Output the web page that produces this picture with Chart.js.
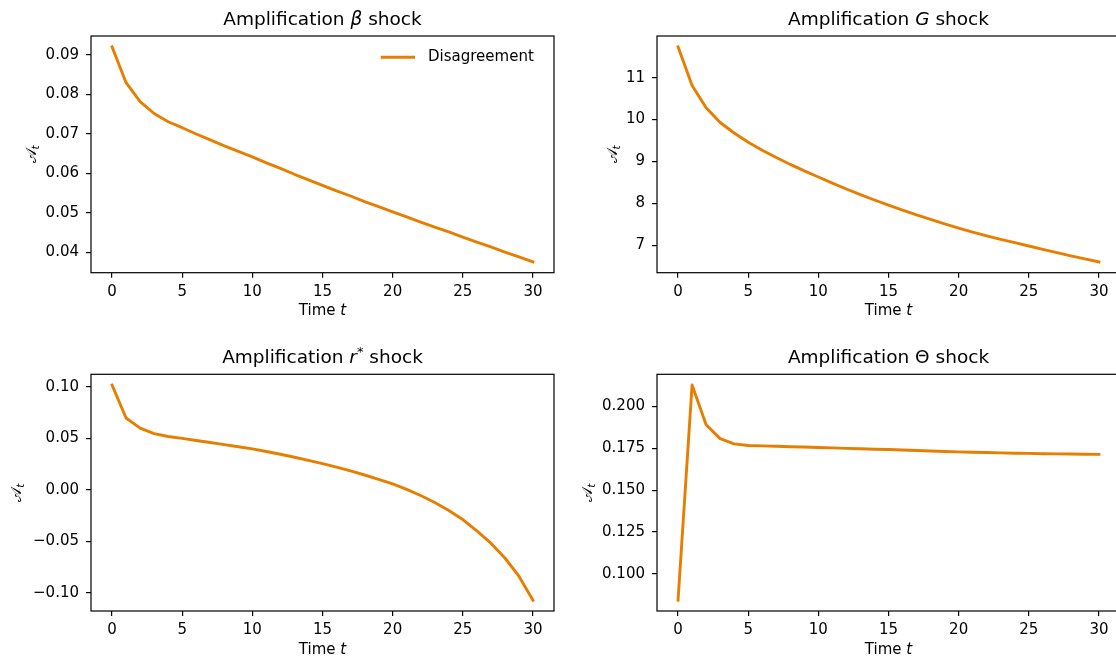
<!DOCTYPE html>
<html>
<head>
<meta charset="utf-8">
<script src="https://cdn.jsdelivr.net/npm/chart.js@4.4.1/dist/chart.umd.min.js"></script>
<style>
  html, body { margin: 0; padding: 0; background: #fff; }
  #wrap { position: relative; width: 1116px; height: 663px; overflow: hidden; }
  canvas { position: absolute; }
</style>
</head>
<body>
<div id="wrap">
  <canvas id="c0"></canvas>
  <canvas id="c1"></canvas>
  <canvas id="c2"></canvas>
  <canvas id="c3"></canvas>
</div>
<script>
// values
const time = [0,1,2,3,4,5,6,7,8,9,10,11,12,13,14,15,16,17,18,19,20,21,22,23,24,25,26,27,28,29,30];
const ampBeta = [0.0921,0.0830,0.0782,0.0752,0.0731,0.0716,0.0700,0.0685,0.0670,0.0656,0.0642,0.0627,0.0613,0.0598,0.0584,0.0570,0.0556,0.0543,0.0529,0.0516,0.0503,0.0490,0.0477,0.0464,0.0452,0.0439,0.0426,0.0414,0.0401,0.0389,0.0376];
const ampG = [11.736,10.81,10.28,9.93,9.68,9.46,9.27,9.095,8.93,8.775,8.63,8.485,8.345,8.212,8.082,7.96,7.842,7.729,7.619,7.512,7.41,7.315,7.227,7.144,7.064,6.985,6.905,6.827,6.751,6.677,6.605];
const ampRstar = [0.1019,0.0699,0.0601,0.0548,0.0520,0.0501,0.0481,0.0461,0.0441,0.0420,0.0399,0.0374,0.0347,0.0318,0.0288,0.0257,0.0223,0.0186,0.0146,0.0104,0.0059,0.0007,-0.0053,-0.0121,-0.0198,-0.0287,-0.0397,-0.0516,-0.0660,-0.0837,-0.1070];
const ampTheta = [0.0843,0.2128,0.1891,0.1808,0.1777,0.1767,0.1765,0.1763,0.1760,0.1758,0.1755,0.1753,0.1750,0.1748,0.1745,0.1743,0.1740,0.1737,0.1734,0.1731,0.1729,0.1727,0.1725,0.1723,0.1721,0.1720,0.1718,0.1717,0.1716,0.1715,0.1714];

const xTicks = [0,5,10,15,20,25,30];
const betaTicks = [0.04,0.05,0.06,0.07,0.08,0.09];
const gTicks = [7,8,9,10,11];
const rstarTicks = [-0.10,-0.05,0.00,0.05,0.10];
const thetaTicks = [0.100,0.125,0.150,0.175,0.200];

const seriesName = 'Disagreement';
const lineColor = '#e67e00';
const FONT = '"DejaVu Sans", sans-serif';

// text pieces: [text, style]  style: '' | 'i' | 'sup' | 'sub'
const xLabel = [['Time '], ['t', 'i']];
const yLabel = [['\u{1D49C}'], ['t', 'sub']];

function fontFor(style, size) {
  const small = style === 'sup' || style === 'sub';
  const s = small ? size * 0.7 : size;
  const it = (style === 'i' || style === 'sub') ? 'italic ' : '';
  const dy = style === 'sup' ? -size * 0.42 : style === 'sub' ? size * 0.22 : 0;
  return { font: it + s + 'px ' + FONT, dy };
}

function drawRich(ctx, parts, cx, y, size) {
  ctx.save();
  ctx.textBaseline = 'alphabetic';
  ctx.textAlign = 'left';
  ctx.fillStyle = '#000';
  let total = 0;
  const m = parts.map(([t, st]) => {
    const f = fontFor(st || '', size);
    ctx.font = f.font;
    const w = ctx.measureText(t).width;
    total += w;
    return { t, f, w };
  });
  let x = cx - total / 2;
  m.forEach(p => { ctx.font = p.f.font; ctx.fillText(p.t, x, y + p.f.dy); x += p.w; });
  ctx.restore();
}

function decor(p) {
  return {
    id: 'decor',
    afterDraw(chart) {
      const { ctx, chartArea: a } = chart;
      ctx.save();
      ctx.strokeStyle = '#000';
      ctx.lineWidth = 1.2;
      ctx.strokeRect(a.left, a.top, a.right - a.left, a.bottom - a.top);
      const mid = (a.left + a.right) / 2;
      drawRich(ctx, p.title, mid, a.top - 11, 18.5);
      drawRich(ctx, xLabel, mid, a.bottom + 42.5, 15);
      ctx.save();
      ctx.translate(a.left - p.ylabelGap + 5, (a.top + a.bottom) / 2);
      ctx.rotate(-Math.PI / 2);
      drawRich(ctx, yLabel, 0, 0, 15);
      ctx.restore();
      if (p.legend) {
        const ds = chart.data.datasets[0];
        const ly = a.top + 21.3;
        ctx.strokeStyle = ds.borderColor;
        ctx.lineWidth = ds.borderWidth;
        ctx.beginPath();
        ctx.moveTo(a.right - 173.3, ly);
        ctx.lineTo(a.right - 139, ly);
        ctx.stroke();
        ctx.fillStyle = '#000';
        ctx.font = '15px ' + FONT;
        ctx.textBaseline = 'alphabetic';
        ctx.fillText(ds.label, a.right - 126, ly + 4);
      }
      ctx.restore();
    }
  };
}

const panels = [
  { id: 'c0', x: 0,   y: 0,   w: 560, h: 330, area: [91, 36, 554, 272.7],  data: ampBeta,  ticks: betaTicks,  dec: 2,
    title: [['Amplification '], ['\u03B2', 'i'], [' shock']], ylabelGap: 60, legend: true },
  { id: 'c1', x: 560, y: 0,   w: 562, h: 330, area: [657, 36, 1120, 272.7], data: ampG,     ticks: gTicks,     dec: 0,
    title: [['Amplification '], ['G', 'i'], [' shock']], ylabelGap: 45 },
  { id: 'c2', x: 0,   y: 330, w: 560, h: 333, area: [91, 374.3, 554, 611],  data: ampRstar, ticks: rstarTicks, dec: 2,
    title: [['Amplification '], ['r', 'i'], ['*', 'sup'], [' shock']], ylabelGap: 75 },
  { id: 'c3', x: 560, y: 330, w: 562, h: 333, area: [657, 374.3, 1120, 611], data: ampTheta, ticks: thetaTicks, dec: 3,
    title: [['Amplification \u0398 shock']], ylabelGap: 70 }
];

const fmt = (v, d) => v.toFixed(d).replace('-', '\u2212');

panels.forEach(p => {
  const cv = document.getElementById(p.id);
  cv.width = p.w; cv.height = p.h;
  cv.style.left = p.x + 'px'; cv.style.top = p.y + 'px';
  cv.style.width = p.w + 'px'; cv.style.height = p.h + 'px';
  const [L, T, R, B] = p.area;
  const lo = Math.min(...p.data), hi = Math.max(...p.data);
  const pad = (hi - lo) * 0.05;
  const tickFont = { family: FONT, size: 15 };
  const axisGrid = { display: true, drawOnChartArea: false, drawTicks: true, tickLength: 5, color: '#000', lineWidth: 1.2 };

  new Chart(cv, {
    type: 'line',
    data: {
      labels: time,
      datasets: [{
        label: seriesName,
        data: time.map((t, i) => ({ x: t, y: p.data[i] })),
        borderColor: lineColor,
        backgroundColor: lineColor,
        borderWidth: 2.9,
        borderJoinStyle: 'round',
        borderCapStyle: 'square',
        pointRadius: 0,
        tension: 0,
        fill: false
      }]
    },
    options: {
      responsive: false,
      animation: false,
      devicePixelRatio: 1,
      layout: { padding: { left: 0, top: T - p.y, right: p.x + p.w - R, bottom: 0 } },
      plugins: { legend: { display: false }, title: { display: false }, tooltip: { enabled: false } },
      scales: {
        x: {
          type: 'linear', min: -1.5, max: 31.5,
          afterBuildTicks: s => { s.ticks = xTicks.map(v => ({ value: v })); },
          afterFit: s => { s.height = p.y + p.h - B; },
          ticks: { font: tickFont, color: '#000', padding: 5, maxRotation: 0, autoSkip: false, callback: v => String(v) },
          grid: axisGrid,
          border: { display: false }
        },
        y: {
          type: 'linear', min: lo - pad, max: hi + pad,
          afterBuildTicks: s => { s.ticks = p.ticks.map(v => ({ value: v })); },
          afterFit: s => { s.width = L - p.x; },
          ticks: { font: tickFont, color: '#000', padding: 7, autoSkip: false, callback: v => fmt(v, p.dec) },
          grid: axisGrid,
          border: { display: false }
        }
      }
    },
    plugins: [decor(p)]
  });
});
</script>
</body>
</html>
